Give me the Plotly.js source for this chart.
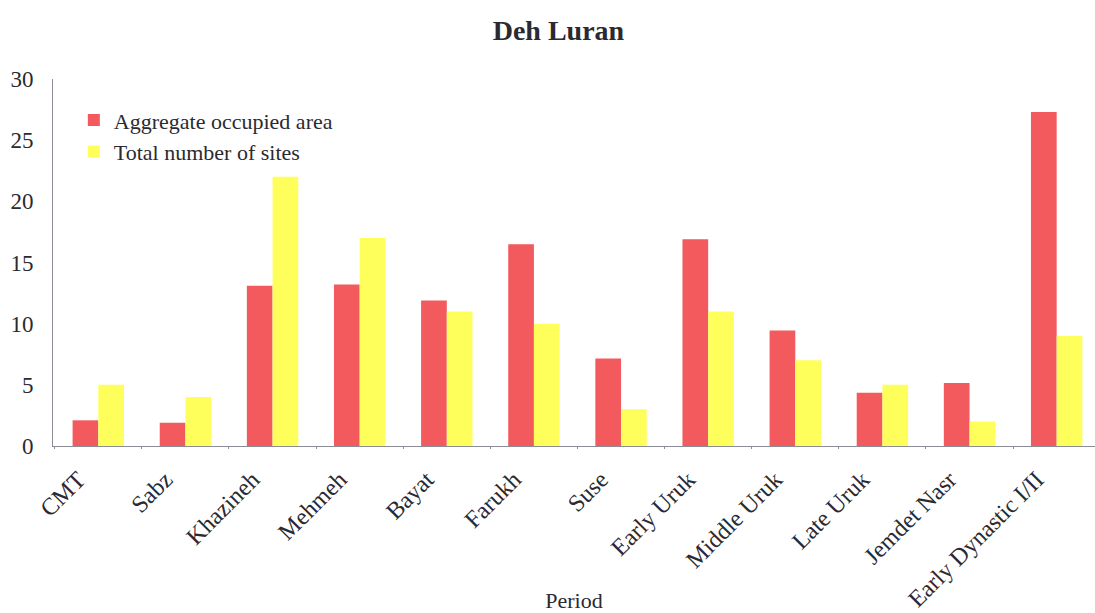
<!DOCTYPE html>
<html>
<head>
<meta charset="utf-8">
<script src="https://cdn.plot.ly/plotly-3.0.1.min.js"></script>
<style>html,body{margin:0;padding:0;background:#fff;}#chart{width:1095px;height:613px;}</style>
</head>
<body>
<div id="chart"></div>
<script>
const periods = ["CMT", "Sabz", "Khazineh", "Mehmeh", "Bayat", "Farukh", "Suse", "Early Uruk", "Middle Uruk", "Late Uruk", "Jemdet Nasr", "Early Dynastic I/II"];
const aggregateArea = [2.1, 1.9, 13.1, 13.2, 11.9, 16.5, 7.15, 16.9, 9.45, 4.35, 5.15, 27.3];
const totalSites = [5, 4, 22, 17, 11, 10, 3, 11, 7, 5, 2, 9];
const yTicks = [0, 5, 10, 15, 20, 25, 30];

const serif = "'Liberation Serif', 'Times New Roman', serif";
const textColor = "#2a2a30";

const traces = [
  {type: "bar", name: "Aggregate occupied area", x: periods, y: aggregateArea,
   marker: {color: "#f25a5e"}},
  {type: "bar", name: "Total number of sites", x: periods, y: totalSites,
   marker: {color: "#ffff5c"}}
];

const layout = {
  width: 1095, height: 613,
  margin: {l: 53, r: 0, t: 79, b: 167},
  paper_bgcolor: "#ffffff", plot_bgcolor: "#ffffff",
  barmode: "group", bargap: 0.41, bargroupgap: 0,
  font: {family: serif, color: textColor, size: 22},
  title: {text: "<b>Deh Luran</b>", font: {family: serif, size: 28, color: textColor},
          xref: "container", x: 0.51, xanchor: "center", yref: "container", y: 0.951, yanchor: "middle"},
  showlegend: true,
  legend: {x: 0.02, y: 0.945, xanchor: "left", yanchor: "top", bgcolor: "rgba(0,0,0,0)",
           font: {family: serif, size: 22, color: textColor}, tracegroupgap: 0, itemwidth: 30},
  xaxis: {
    type: "category", range: [-0.52, 11.44], tickangle: -45,
    showline: true, linecolor: "#8a8d96", linewidth: 1,
    showgrid: false, zeroline: false,
    ticks: "outside", tickson: "boundaries", ticklen: 2, tickcolor: "#8a8d96",
    ticklabelstandoff: 9, ticklabelshift: -20,
    tickfont: {family: serif, size: 24, color: textColor},
    title: {text: "Period", font: {family: serif, size: 22, color: textColor}, standoff: 0},
    automargin: false, fixedrange: true
  },
  yaxis: {
    range: [0, 30], tickvals: yTicks, ticktext: yTicks.map(String),
    showline: true, linecolor: "#8a8d96", linewidth: 1,
    showgrid: false, zeroline: false, ticks: "",
    ticklabelstandoff: 14,
    tickfont: {family: serif, size: 23, color: textColor},
    automargin: false, fixedrange: true
  }
};

Plotly.newPlot("chart", traces, layout, {displayModeBar: false, staticPlot: true});
</script>
</body>
</html>
